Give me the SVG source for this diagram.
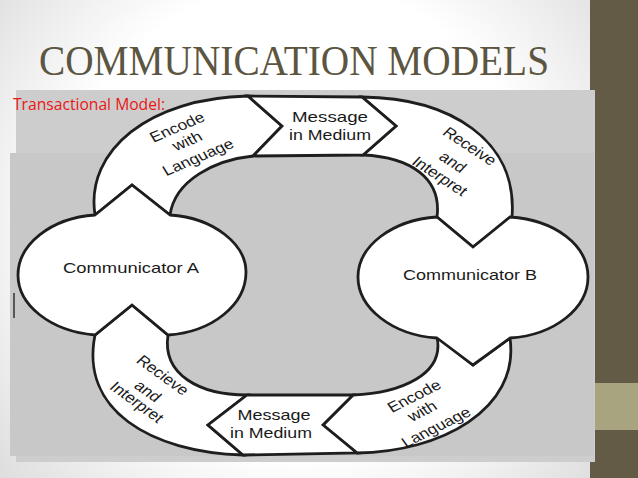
<svg xmlns="http://www.w3.org/2000/svg" width="638" height="478" viewBox="0 0 638 478">
  <defs>
    <radialGradient id="bg" cx="300" cy="220" r="430" gradientUnits="userSpaceOnUse">
      <stop offset="0.55" stop-color="#ffffff"/>
      <stop offset="1" stop-color="#d6d6d6"/>
    </radialGradient>
    <style>
      .shape { fill: #ffffff; stroke: #1e1e1e; stroke-width: 2.8; stroke-linejoin: miter; }
      .lbl { font-family: "Liberation Sans", Arial, sans-serif; font-size: 15px; fill: #1a1a1a; text-anchor: middle; }
      .band { font-family: "Liberation Sans", Arial, sans-serif; font-size: 14.5px; fill: #1a1a1a; text-anchor: middle; }
    </style>
  </defs>

  <!-- slide background -->
  <rect x="0" y="0" width="638" height="478" fill="url(#bg)"/>
  <rect x="590" y="0" width="48" height="478" fill="#635b46"/>
  <rect x="590" y="383" width="48" height="47" fill="#a9a480"/>

  <!-- title -->
  <text x="39" y="75" font-family="'Liberation Serif', 'Times New Roman', serif" font-size="42" fill="#5c5541" textLength="510" lengthAdjust="spacingAndGlyphs">COMMUNICATION MODELS</text>

  <!-- grey panel -->
  <rect x="16" y="90" width="579" height="372" fill="#cdcdcd"/>
  <rect x="10" y="153" width="584" height="303" fill="#c8c8c8"/>
  <line x1="14" y1="293" x2="14" y2="318" stroke="#333" stroke-width="1.5"/>

  <text x="13" y="110" font-family="'Open Sans', 'Liberation Sans', sans-serif" font-size="16" fill="#ec1616" textLength="152" lengthAdjust="spacingAndGlyphs">Transactional Model:</text>

  <!-- connectors (ring bands) -->
  <g id="connectors">
    <g id="band-encode-top">
      <path class="shape" d="M95,215 C85,150 150,98 248,96 L282,126 L253,156 C215,160 175,180 170,215 L132,185 Z"/>
      <text class="band" transform="translate(177,127) scale(1.2,1) rotate(-27)" dy="0.35em">Encode</text>
      <text class="band" transform="translate(187,141) scale(1.2,1) rotate(-27)" dy="0.35em">with</text>
      <text class="band" transform="translate(198,157) scale(1.2,1) rotate(-27)" dy="0.35em">Language</text>
    </g>
    <g id="band-receive-top">
      <path class="shape" d="M362,97 C450,98 518,140 512,217 L473,247 L437,217 C442,178 410,157 363,155 L396,126 Z"/>
      <text class="band" transform="translate(470,146) scale(1.2,1) rotate(38)" dy="0.35em">Receive</text>
      <text class="band" transform="translate(453,162) scale(1.2,1) rotate(38)" dy="0.35em">and</text>
      <text class="band" transform="translate(440,176) scale(1.2,1) rotate(38)" dy="0.35em">Interpret</text>
    </g>
    <g id="band-encode-bottom">
      <path class="shape" d="M510,338 C520,410 440,452 357,453 L323,425 L353,395 C400,393 445,375 437,337 L473,365 Z"/>
      <text class="band" transform="translate(414,396) scale(1.2,1) rotate(-31)" dy="0.35em">Encode</text>
      <text class="band" transform="translate(422,411) scale(1.2,1) rotate(-31)" dy="0.35em">with</text>
      <text class="band" transform="translate(436,427) scale(1.2,1) rotate(-31)" dy="0.35em">Language</text>
    </g>
    <g id="band-receive-bottom">
      <path class="shape" d="M95,335 L132,305 L168,335 C162,375 200,395 247,395 L208,425 L243,455 C150,452 80,410 95,335 Z"/>
      <text class="band" transform="translate(163,375) scale(1.2,1) rotate(41)" dy="0.35em">Recieve</text>
      <text class="band" transform="translate(148,391) scale(1.2,1) rotate(41)" dy="0.35em">and</text>
      <text class="band" transform="translate(137,402) scale(1.2,1) rotate(41)" dy="0.35em">Interpret</text>
    </g>
  </g>

  <g id="message-top">
    <path class="shape" d="M248,96 L362,97 L396,126 L363,155 L253,156 L282,126 Z"/>
    <text class="lbl" x="330" y="122" textLength="76" lengthAdjust="spacingAndGlyphs">Message</text>
    <text class="lbl" x="330" y="140" textLength="82" lengthAdjust="spacingAndGlyphs">in Medium</text>
  </g>

  <g id="message-bottom">
    <path class="shape" d="M247,395 L353,395 L323,425 L357,453 L243,455 L208,425 Z"/>
    <text class="lbl" x="274" y="420" textLength="73" lengthAdjust="spacingAndGlyphs">Message</text>
    <text class="lbl" x="271" y="438" textLength="82" lengthAdjust="spacingAndGlyphs">in Medium</text>
  </g>

  <g id="communicator-a">
    <path class="shape" d="M95,215 L132,185 L170,215 C215,218 246,245 246,272 C246,305 212,332 168,335 L132,305 L95,335 C50,331 18,305 18,275 C18,245 50,218 95,215 Z"/>
    <text class="lbl" x="131" y="273" textLength="136" lengthAdjust="spacingAndGlyphs">Communicator A</text>
  </g>

  <g id="communicator-b">
    <path class="shape" d="M437,217 L473,247 L510,217 C555,220 588,245 588,277 C588,308 555,335 510,338 L473,365 L437,338 C392,335 358,308 358,277 C358,246 392,220 437,217 Z"/>
    <text class="lbl" x="470" y="280" textLength="134" lengthAdjust="spacingAndGlyphs">Communicator B</text>
  </g>
</svg>
